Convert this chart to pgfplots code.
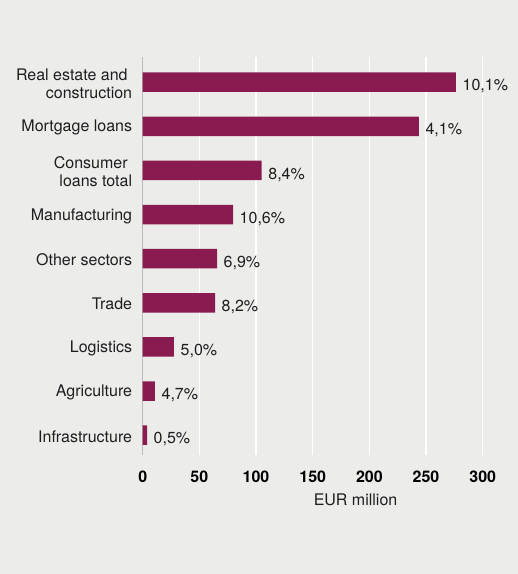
\documentclass[border=0pt]{standalone}
\usepackage{pgfplots}
\pgfplotsset{compat=1.18}
\usepackage{pgfplotstable}
\usepackage{fontspec}
\setmainfont{TeX Gyre Heros}
\definecolor{bgc}{RGB}{236,237,235}
\definecolor{barc}{RGB}{138,27,80}
\definecolor{txt}{RGB}{30,30,30}
\definecolor{axc}{RGB}{60,60,60}
\pgfplotstableread{
x y label
3.8 0 0,5\%
10.8 1 4,7\%
27.6 2 5,0\%
63.8 3 8,2\%
65.6 4 6,9\%
79.7 5 10,6\%
105.0 6 8,4\%
243.7 7 4,1\%
276.4 8 10,1\%
}\data
\begin{document}
\begin{tikzpicture}
\fill[bgc] (0,0) rectangle (518bp,574bp);
\begin{axis}[
  at={(142.7bp,119bp)}, anchor=south west,
  scale only axis, width=340bp, height=398bp,
  xmin=0, xmax=300, ymin=-0.45, ymax=8.57,
  xtick={0,50,100,150,200,250,300},
  ytick={0,1,2,3,4,5,6,7,8},
  yticklabels={Infrastructure,Agriculture,Logistics,Trade,Other sectors,Manufacturing,{Consumer\hspace*{0.28em}\\loans total},Mortgage loans,{Real estate and\hspace*{0.28em}\\construction}},
  axis line style={draw=none},
  major tick length=0pt,
  xmajorgrids, grid style={draw=white, line width=1.1pt},
  /pgf/number format/assume math mode=true,
  xticklabel style={font=\fontsize{16bp}{18.5bp}\selectfont\bfseries, text=black, anchor=north, inner sep=0pt, yshift=-16bp},
  yticklabel style={font=\fontsize{16bp}{18.5bp}\selectfont, text=txt, align=right, anchor=east, inner sep=0pt, xshift=-10.4bp, yshift=-1.5bp},
  xlabel={EUR million},
  xlabel style={font=\fontsize{16bp}{18.5bp}\selectfont, text=txt, at={(axis description cs:0.626,0)}, anchor=north, inner sep=0pt, yshift=-39bp},
  xbar, bar width=19.5bp,
  point meta=explicit symbolic,
  nodes near coords={\pgfplotspointmeta},
  nodes near coords align=horizontal,
  every node near coord/.append style={font=\fontsize{16bp}{18.5bp}\selectfont, text=txt, anchor=base west, inner sep=0pt, xshift=6.5bp, yshift=-8.7bp},
]
\addplot[fill=barc, draw=none] table[x=x, y=y, meta=label] {\data};
\draw[axc, line width=1.3pt] (axis cs:0,-0.45) -- (axis cs:0,8.57);
\end{axis}
\end{tikzpicture}
\end{document}
